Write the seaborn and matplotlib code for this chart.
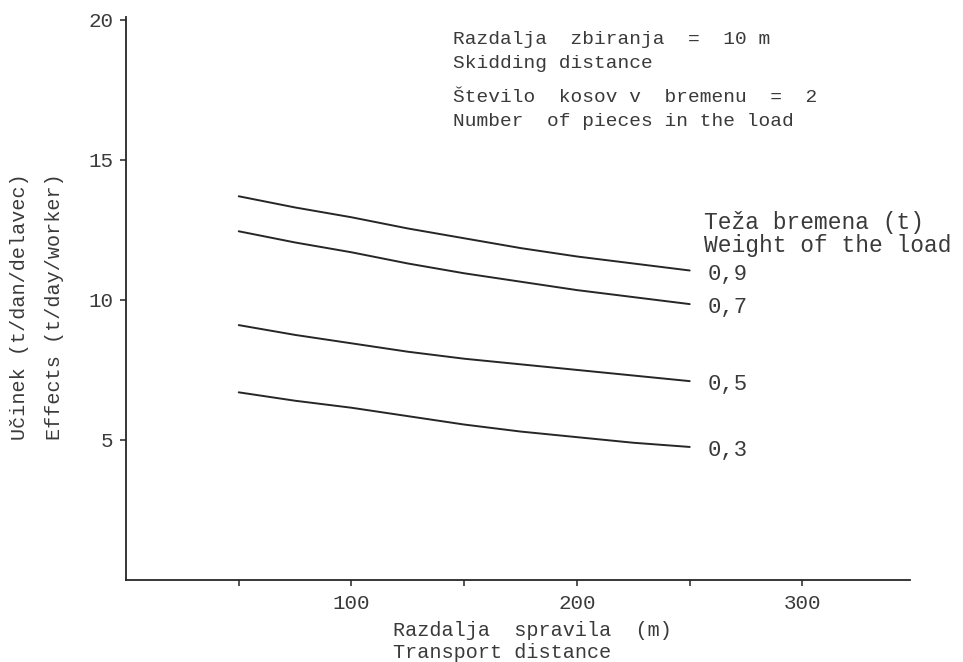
import matplotlib
matplotlib.use("Agg")
import matplotlib.pyplot as plt
import seaborn as sns
import pandas as pd
from matplotlib.ticker import FixedLocator

# Transport distance (m) at which the curves were read
distance = [50, 75, 100, 125, 150, 175, 200, 225, 250]

# Daily output (t/day/worker) for each load weight (t)
effect_09 = [13.7, 13.3, 12.95, 12.55, 12.2, 11.85, 11.55, 11.3, 11.05]
effect_07 = [12.45, 12.05, 11.7, 11.3, 10.95, 10.65, 10.35, 10.1, 9.85]
effect_05 = [9.1, 8.75, 8.45, 8.15, 7.9, 7.7, 7.5, 7.3, 7.1]
effect_03 = [6.7, 6.4, 6.15, 5.85, 5.55, 5.3, 5.1, 4.9, 4.75]

weight_labels = ["0,9", "0,7", "0,5", "0,3"]
series = [effect_09, effect_07, effect_05, effect_03]

y_ticks = [5, 10, 15, 20]
x_ticks_major = [100, 200, 300]
x_ticks_minor = [50, 150, 250]

rows = []
for lab, vals in zip(weight_labels, series):
    for d, v in zip(distance, vals):
        rows.append({"distance": d, "effect": v, "weight": lab})
df = pd.DataFrame(rows)

sns.set_style("ticks")
plt.rcParams["font.family"] = ["Liberation Mono", "DejaVu Sans Mono"]

W, H = 963, 662
fig = plt.figure(figsize=(W / 100, H / 100), dpi=100)
ax = fig.add_axes([126 / W, 82 / H, (910 - 126) / W, (580 - 17) / H])

ink = "#262626"
sns.lineplot(data=df, x="distance", y="effect", units="weight", estimator=None,
             color=ink, linewidth=1.4, ax=ax, legend=False)

ax.set_xlim(0, 347.7)
ax.set_ylim(0, 20.1)
sns.despine(ax=ax)
for s in ("left", "bottom"):
    ax.spines[s].set_color(ink)
    ax.spines[s].set_linewidth(1.3)

ax.yaxis.set_major_locator(FixedLocator(y_ticks))
ax.set_yticklabels([str(t) for t in y_ticks])
ax.xaxis.set_major_locator(FixedLocator(x_ticks_major))
ax.xaxis.set_minor_locator(FixedLocator(x_ticks_minor))
ax.set_xticklabels([str(t) for t in x_ticks_major])
ax.tick_params(axis="both", which="both", direction="out", length=4, width=1.1,
               color=ink, labelcolor="#3a3a3a")
ax.tick_params(axis="x", which="major", labelsize=15, pad=6)
ax.tick_params(axis="y", which="major", labelsize=15, pad=5)
ax.set_xlabel("")
ax.set_ylabel("")

txt = "#3a3a3a"

# Curve labels at the right end of each line
for lab, vals in zip(weight_labels, series):
    ax.text(258, vals[-1] - 0.13, lab, fontsize=16, color=txt,
            ha="left", va="center")


def ftext(px, py, s, **kw):
    fig.text(px / W, 1 - py / H, s, color=txt, **kw)


ftext(704, 223, "Teža bremena (t)", fontsize=16.5, ha="left", va="center")
ftext(704, 245, "Weight of the load", fontsize=16.5, ha="left", va="center")

ftext(453, 40, "Razdalja  zbiranja  =  10 m", fontsize=14, ha="left", va="center")
ftext(453, 63, "Skidding distance", fontsize=14, ha="left", va="center")
ftext(453, 98, "Število  kosov v  bremenu  =  2", fontsize=14, ha="left", va="center")
ftext(453, 121, "Number  of pieces in the load", fontsize=14, ha="left", va="center")

ftext(393, 631, "Razdalja  spravila  (m)", fontsize=14.5, ha="left", va="center")
ftext(393, 652, "Transport distance", fontsize=14.5, ha="left", va="center")

ftext(20, 440, "Učinek (t/dan/delavec)", fontsize=14.5, rotation=90,
      ha="center", va="bottom")
ftext(55, 440, "Effects (t/day/worker)", fontsize=14.5, rotation=90,
      ha="center", va="bottom")

fig.savefig("out.png", dpi=100)
